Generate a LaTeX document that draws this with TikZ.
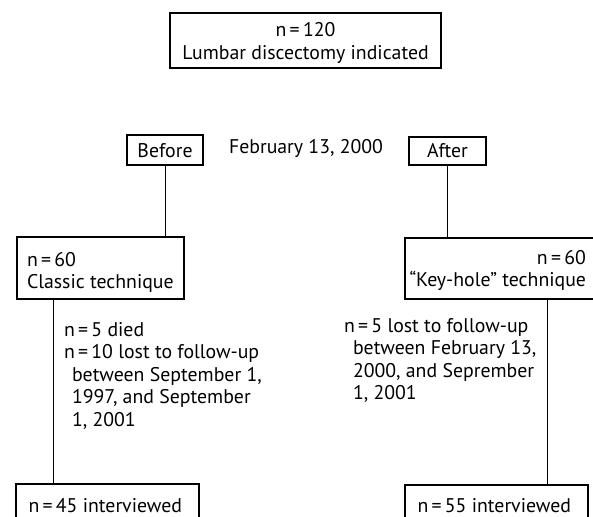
\documentclass[tikz,border=0pt]{standalone}
\usepackage{fontspec}
\setmainfont{PT Sans}
\usetikzlibrary{calc}
\newcommand{\eq}{\,=\,}
\begin{document}
\begin{tikzpicture}[x=1bp,y=-1bp,
  every node/.style={font=\fontsize{19.8bp}{22.6bp}\selectfont, inner sep=0pt, outer sep=0pt},
  box/.style={draw=black, line width=1.4bp, anchor=north west},
  conn/.style={draw=black, line width=1bp},
  note/.style={anchor=base west}]
\clip (0,0) rectangle (593,517);
\fill[white] (0,0) rectangle (593,517);
% top box
\node[box, text height=24bp, text depth=31bp] (top) at (170,13)
  {\makebox[271bp]{\begin{tabular}[t]{@{}c@{}}n\eq120\\Lumbar discectomy indicated\end{tabular}}};
% before / after
\node[box, text height=23bp, text depth=7bp] (before) at (127,135)
  {\makebox[76bp]{Before}};
\node (feb) at (306,148) {February 13, 2000};
\node[box, text height=21bp, text depth=7bp] (after) at (409,137)
  {\makebox[77bp]{After}};
% technique boxes
\node[box, text height=29bp, text depth=33bp] (classic) at (17,237)
  {\makebox[167bp][l]{\hspace{10bp}\begin{tabular}[t]{@{}l@{}}n\eq60\\Classic technique\end{tabular}}};
\node[box, text height=26bp, text depth=35bp] (keyhole) at (405,238)
  {\makebox[200bp][r]{\begin{tabular}[t]{@{}r@{}}n\eq60\\“Key-hole” technique\end{tabular}\hspace{19bp}}};
% notes
\node[note] (noteL) at (64,336)
  {\begin{tabular}[t]{@{}l@{}}n\eq5 died\\n\eq10 lost to follow-up\\\hspace*{8bp}between September 1,\\\hspace*{8bp}1997, and September\\\hspace*{8bp}1, 2001\end{tabular}};
\node[note] (noteR) at (344,332)
  {\begin{tabular}[t]{@{}l@{}}n\eq5 lost to follow-up\\\hspace*{9bp}between February 13,\\\hspace*{9bp}2000, and Seprember\\\hspace*{9bp}1, 2001\end{tabular}};
% bottom boxes
\node[box, text height=28bp, text depth=12bp] (interL) at (16,484)
  {\makebox[183bp][l]{\hspace{12.5bp}n\eq45 interviewed}};
\node[box, text height=27bp, text depth=12bp] (interR) at (405,485)
  {\makebox[183bp][l]{\hspace{12.5bp}n\eq55 interviewed}};
% connectors
\draw[conn] (before.south) -- (before.south |- classic.north);
\draw[conn] (after.south) -- (after.south |- keyhole.north);
\coordinate (cL) at ($(classic.south west)+(36,0)$);
\coordinate (cR) at ($(keyhole.south west)+(142,0)$);
\draw[conn] (cL) -- (cL |- interL.north);
\draw[conn] (cR) -- (cR |- interR.north);
\end{tikzpicture}
\end{document}
